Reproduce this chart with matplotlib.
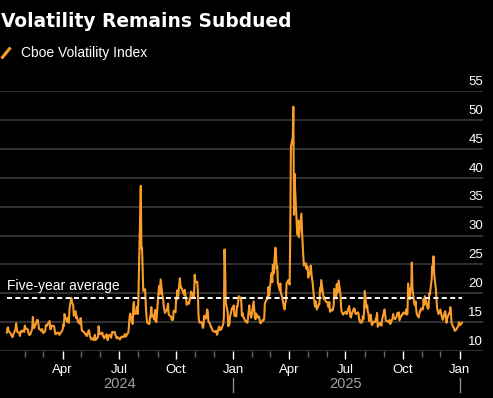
import numpy as np
import pandas as pd
import matplotlib
matplotlib.use("Agg")
import matplotlib.pyplot as plt
import matplotlib.dates as mdates
from matplotlib.transforms import ScaledTranslation

# daily VIX closes, one list per month
vix_2024 = [
    [13.2, 14.0, 14.1, 13.4, 13.1, 12.8, 12.7, 12.4, 12.7, 13.8, 14.8, 14.1, 13.3, 13.2, 12.6, 13.1, 13.5, 13.3, 13.6, 13.3, 14.4],
    [13.9, 13.9, 13.7, 13.1, 12.8, 12.8, 12.9, 13.9, 15.9, 14.4, 14.0, 14.2, 15.4, 15.3, 14.5, 13.8, 13.7, 13.4, 13.8, 13.4],
    [13.1, 13.5, 14.5, 14.5, 14.4, 14.7, 15.2, 13.8, 13.8, 14.4, 14.4, 14.3, 13.8, 13.0, 12.9, 13.1, 13.2, 12.9, 12.8, 13.0],
    [13.7, 14.6, 14.3, 16.4, 16.0, 15.2, 15.0, 15.8, 14.9, 17.3, 19.2, 18.4, 18.2, 18.0, 16.1, 16.9, 15.7, 16.0, 15.4, 15.0, 14.7, 15.7],
    [14.7, 13.5, 13.5, 13.2, 13.0, 13.0, 12.7, 12.6, 13.6, 13.4, 12.5, 12.4, 12.0, 12.2, 11.9, 12.3, 12.8, 11.9, 12.4, 14.3, 13.4, 12.9],
    [13.1, 13.2, 12.6, 12.6, 12.2, 12.7, 12.9, 12.0, 11.9, 12.7, 12.8, 12.3, 13.3, 13.2, 13.3, 12.8, 12.6, 12.2, 12.4],
    [12.2, 12.0, 12.1, 12.5, 12.4, 12.5, 12.9, 12.9, 12.5, 13.1, 13.2, 14.5, 15.9, 16.5, 14.9, 14.7, 18.0, 18.5, 16.4, 16.6, 17.7, 16.4],
    [18.6, 23.4, 38.6, 27.7, 27.9, 23.8, 20.4, 20.7, 18.1, 16.2, 15.2, 14.8, 14.7, 15.9, 16.3, 17.6, 15.9, 16.2, 15.4, 17.1, 15.7, 15.0],
    [20.7, 21.3, 19.9, 22.4, 19.5, 19.1, 17.7, 17.1, 16.6, 17.1, 17.6, 18.2, 16.3, 16.2, 15.9, 15.4, 15.4, 15.4, 17.0, 16.7],
    [19.3, 18.9, 20.5, 19.2, 22.6, 21.4, 20.9, 20.9, 20.5, 19.7, 20.6, 19.6, 19.1, 18.0, 18.4, 18.2, 19.2, 19.1, 20.3, 19.8, 19.3, 20.4, 23.2],
    [21.9, 22.0, 20.5, 16.3, 15.2, 14.9, 15.0, 14.7, 14.0, 14.3, 16.1, 15.6, 16.4, 17.2, 16.9, 15.2, 14.6, 14.1, 14.1, 13.5],
    [13.3, 13.3, 13.5, 13.5, 12.8, 14.2, 14.2, 13.6, 13.9, 13.8, 14.7, 15.9, 27.6, 24.1, 18.4, 16.8, 14.3, 14.7, 16.0, 17.4, 17.4],
]
vix_2025 = [
    [17.9, 16.1, 16.0, 17.8, 17.7, 19.5, 19.2, 18.7, 16.1, 16.6, 16.0, 15.1, 15.1, 15.0, 14.9, 17.9, 16.4, 16.6, 15.8, 16.4],
    [18.6, 17.2, 15.8, 15.5, 16.5, 15.8, 16.0, 15.9, 15.1, 14.8, 15.4, 15.3, 15.7, 18.2, 19.0, 19.4, 19.1, 21.1, 19.6],
    [22.8, 23.5, 21.9, 24.9, 23.4, 27.9, 26.9, 24.2, 24.7, 21.8, 20.5, 21.7, 19.9, 19.8, 19.3, 17.5, 17.2, 18.3, 18.7, 21.7, 22.3],
    [21.8, 21.5, 30.0, 45.3, 47.0, 52.3, 33.6, 40.7, 37.6, 30.9, 30.1, 32.6, 29.7, 33.8, 30.6, 28.5, 26.5, 24.8, 25.2, 24.2, 24.7],
    [24.6, 22.7, 23.6, 24.8, 23.6, 22.5, 21.9, 18.4, 17.7, 18.6, 17.8, 17.2, 18.1, 18.1, 20.9, 20.3, 22.3, 19.0, 19.3, 19.2, 18.6],
    [18.4, 17.7, 17.6, 18.5, 16.8, 17.2, 17.0, 17.3, 18.0, 20.8, 19.1, 21.6, 20.1, 22.2, 19.8, 17.5, 16.8, 16.6, 16.3, 16.7],
    [16.8, 16.6, 16.4, 17.8, 16.8, 15.9, 15.8, 16.4, 17.2, 17.4, 17.2, 16.5, 16.4, 16.7, 16.5, 15.4, 15.4, 14.9, 15.0, 16.0, 15.5, 16.7],
    [20.4, 17.5, 17.9, 16.8, 16.6, 15.2, 16.3, 14.7, 14.5, 14.8, 15.1, 15.0, 15.6, 15.7, 16.6, 14.2, 14.8, 14.6, 14.9, 14.4, 15.4],
    [17.2, 16.4, 15.3, 15.2, 15.1, 15.0, 15.4, 14.7, 14.8, 15.7, 16.4, 15.7, 15.7, 15.5, 16.1, 16.6, 16.2, 16.7, 15.3, 16.1, 16.3],
    [16.3, 16.6, 16.7, 16.4, 17.2, 16.3, 16.4, 21.7, 19.0, 20.8, 20.6, 25.3, 20.8, 18.2, 17.9, 18.6, 17.3, 16.4, 15.8, 16.4, 16.9, 16.9, 17.4],
    [17.2, 19.0, 18.0, 19.5, 19.1, 17.6, 17.3, 17.5, 20.0, 19.8, 22.4, 24.7, 23.7, 26.4, 23.4, 20.5, 18.6, 17.2, 16.4],
    [17.2, 16.6, 16.1, 15.8, 15.4, 16.7, 16.9, 15.8, 14.9, 15.7, 16.5, 16.5, 17.6, 16.9, 14.9, 14.1, 14.0, 13.5, 13.6, 14.2, 14.3, 15.0],
]
vix_2026 = [[14.5, 14.9]]

five_year_avg = 19.2
y_ticks = [10, 15, 20, 25, 30, 35, 40, 45, 50, 55]

market_holidays = ["2024-01-01", "2024-01-15", "2024-02-19", "2024-03-29", "2024-05-27",
                   "2024-06-19", "2024-07-04", "2024-09-02", "2024-11-28", "2024-12-25",
                   "2025-01-01", "2025-01-09", "2025-01-20", "2025-02-17", "2025-04-18",
                   "2025-05-26", "2025-06-19", "2025-07-04", "2025-09-01", "2025-11-27",
                   "2025-12-25", "2026-01-01"]


def month_dates(month, n):
    start = pd.Timestamp(month)
    days = pd.bdate_range(start, start + pd.offsets.MonthEnd(0), freq="C", holidays=market_holidays)
    if n <= len(days):
        return list(days[:n])
    return list(pd.date_range(days[0], days[-1], periods=n))


dates, values = [], []
for year, months in [(2024, vix_2024), (2025, vix_2025), (2026, vix_2026)]:
    for m, vals in enumerate(months):
        dates += month_dates(f"{year}-{m + 1:02d}-01", len(vals))
        values += vals
df = pd.DataFrame({"date": dates, "vix": values})

orange = "#f99d2a"
grid_c = "#3f3f3f"
plt.rcParams["font.family"] = ["Liberation Sans", "DejaVu Sans"]

fig = plt.figure(figsize=(4.93, 3.98), dpi=100, facecolor="black")
ax = fig.add_axes([0.0, 0.118, 0.98, 0.653])
ax.set_facecolor("black")

for v in y_ticks:
    ax.axhline(v, color=grid_c, lw=1.1, zorder=1)

ax.plot(df["date"], df["vix"], color=orange, lw=1.5, zorder=3, solid_joinstyle="round")
ax.hlines(five_year_avg, df["date"].iloc[0], df["date"].iloc[-1], colors="white",
          lw=1.4, linestyles=(0, (2.6, 1.7)), zorder=4)
ax.text(df["date"].iloc[0], five_year_avg + 1.3, "Five-year average", color="white",
        fontsize=10, ha="left", va="baseline", zorder=5)

ax.set_ylim(10, 55)
ax.set_xlim(pd.Timestamp("2023-12-22"), pd.Timestamp("2026-02-08"))
for s in ax.spines.values():
    s.set_visible(False)

# y axis labels on the right, sitting above the gridlines
ax.yaxis.tick_right()
ax.set_yticks(y_ticks)
ax.tick_params(axis="y", length=0, pad=0, labelsize=9.5, labelcolor="white")
off = ScaledTranslation(0, 4.5 / 72, fig.dpi_scale_trans)
for lab in ax.get_yticklabels():
    lab.set_horizontalalignment("right")
    lab.set_verticalalignment("baseline")
    lab.set_transform(lab.get_transform() + off)

# x axis: quarters labelled, months as minor ticks
ax.xaxis.set_major_locator(mdates.MonthLocator(bymonth=[1, 4, 7, 10]))
ax.xaxis.set_major_formatter(mdates.DateFormatter("%b"))
ax.xaxis.set_minor_locator(mdates.MonthLocator())
ax.tick_params(axis="x", which="major", length=6, width=1, color="white",
               labelsize=9.5, labelcolor="white", pad=3)
ax.tick_params(axis="x", which="minor", length=4, width=1, color="#666666")
major = [d for d in pd.date_range("2024-04-01", "2026-01-01", freq="QS")]
ax.set_xticks(major)
ax.set_xticks([d for d in pd.date_range("2024-02-01", "2026-01-01", freq="MS")], minor=True)

xt = ax.get_xaxis_transform()
for yr in [2024, 2025]:
    ax.text(pd.Timestamp(f"{yr}-07-01"), -0.128, str(yr), transform=xt, ha="center",
            va="center", color="#a0a0a0", fontsize=10.5)
for yr in [2025, 2026]:
    ax.plot([pd.Timestamp(f"{yr}-01-01")] * 2, [-0.104, -0.158], transform=xt,
            color="#8a8a8a", lw=1, clip_on=False)

fig.text(0.003, 0.932, "Volatility Remains Subdued", color="white", fontsize=13.4,
         fontweight="bold", family="DejaVu Sans", ha="left", va="baseline")
fig.add_artist(plt.Line2D([1.5 / 493, 10.5 / 493], [1 - 58.5 / 398, 1 - 47.5 / 398],
                          color=orange, lw=2.2, solid_capstyle="butt"))
fig.text(21 / 493, 1 - 57 / 398, "Cboe Volatility Index", color="white", fontsize=10,
         ha="left", va="baseline")

fig.savefig("out.png", dpi=100, facecolor="black")
